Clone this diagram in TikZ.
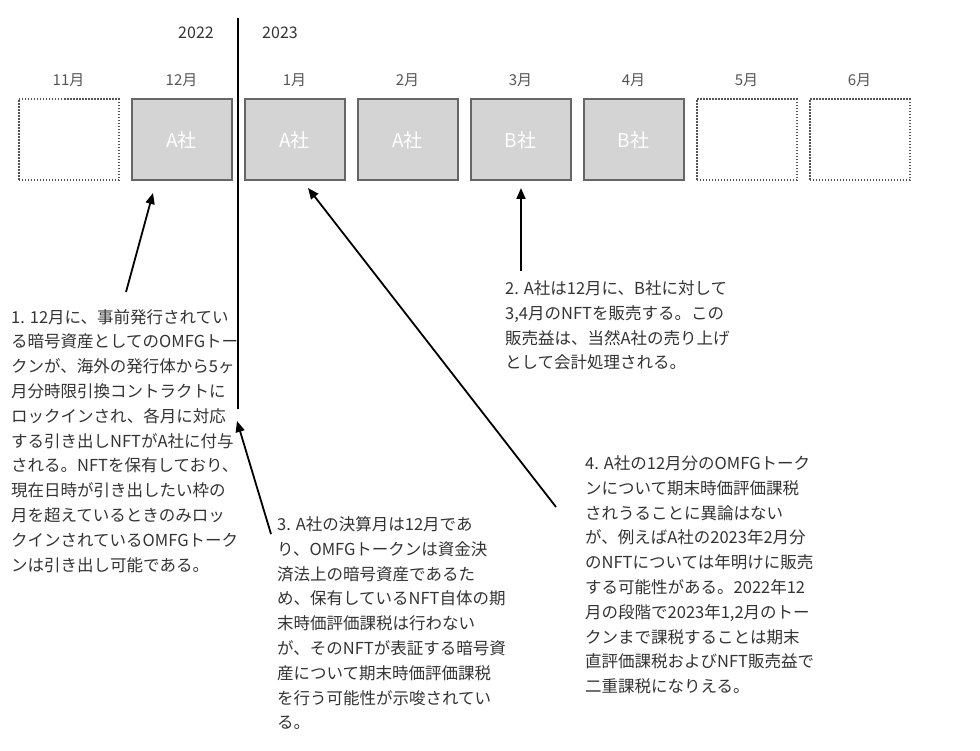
\documentclass[tikz,border=0pt]{standalone}
\usepackage{fontspec}
\setmainfont{Noto Sans CJK JP}
\usetikzlibrary{arrows.meta}
\definecolor{boxfill}{HTML}{D4D4D4}
\definecolor{boxline}{HTML}{666666}
\definecolor{dotline}{HTML}{555555}
\definecolor{txt}{HTML}{333333}
\definecolor{lbl}{HTML}{555555}
\tikzset{
  monthbox/.style={draw=boxline, fill=boxfill, line width=2pt, minimum width=100pt, minimum height=81pt, inner sep=0pt, text=white, font=\fontsize{19}{19}\selectfont},
  emptybox/.style={draw=dotline, dash pattern=on 1.5pt off 1.5pt, line width=2pt, minimum width=100pt, minimum height=81pt, inner sep=0pt},
  monthlbl/.style={text=lbl, font=\fontsize{15}{15}\selectfont, inner sep=0pt},
  yearlbl/.style={text=txt, font=\fontsize{16}{16}\selectfont, inner sep=0pt},
  note/.style={text=txt, align=left, anchor=base west, inner sep=0pt, font=\fontsize{16.5}{24.8}\selectfont},
  pointer/.style={draw=black, line width=1.8pt, -{Triangle[length=11pt,width=9pt]}},
  divider/.style={draw=black, line width=2pt}
}
\begin{document}
\begin{tikzpicture}[x=1pt,y=-1pt]
\useasboundingbox (0,0) rectangle (980,751);

% years
\node[yearlbl] (y22) at (196,33) {2022};
\node[yearlbl] (y23) at (280,33) {2023};

% month labels
\node[monthlbl] (l11) at (68.5,80) {11月};
\node[monthlbl] (l12) at (181.5,80) {12月};
\node[monthlbl] (l1) at (294.5,80) {1月};
\node[monthlbl] (l2) at (407.5,80) {2月};
\node[monthlbl] (l3) at (520.5,80) {3月};
\node[monthlbl] (l4) at (633.5,80) {4月};
\node[monthlbl] (l5) at (746.5,80) {5月};
\node[monthlbl] (l6) at (859.5,80) {6月};

% boxes
\node[emptybox] (b11) at (68.5,140) {};
\node[monthbox] (b12) at (181.5,140) {A社};
\node[monthbox] (b1) at (294.5,140) {A社};
\node[monthbox] (b2) at (407.5,140) {A社};
\node[monthbox] (b3) at (520.5,140) {B社};
\node[monthbox] (b4) at (633.5,140) {B社};
\node[emptybox] (b5) at (746.5,140) {};
\node[emptybox] (b6) at (859.5,140) {};

% divider
\coordinate (dtop) at (238,18);
\coordinate (dbot) at (238,409);
\draw[divider] (dtop) -- (dbot);

% notes (anchor = baseline of last line)
\node[note] (n1) at (11,571) {1. 12月に、事前発行されてい\\る暗号資産としてのOMFGトー\\クンが、海外の発行体から5ヶ\\月分時限引換コントラクトに\\ロックインされ、各月に対応\\する引き出しNFTがA社に付与\\される。NFTを保有しており、\\現在日時が引き出したい枠の\\月を超えているときのみロッ\\クインされているOMFGトーク\\ンは引き出し可能である。};
\node[note] (n2) at (505,368.9) {2. A社は12月に、B社に対して\\3,4月のNFTを販売する。この\\販売益は、当然A社の売り上げ\\として会計処理される。};
\node[note] (n3) at (277,728.9) {3. A社の決算月は12月であ\\り、OMFGトークンは資金決\\済法上の暗号資産であるた\\め、保有しているNFT自体の期\\末時価評価課税は行わない\\が、そのNFTが表証する暗号資\\産について期末時価評価課税\\を行う可能性が示唆されてい\\る。};
\node[note] (n4) at (585,692.7) {4. A社の12月分のOMFGトーク\\ンについて期末時価評価課税\\されうることに異論はない\\が、例えばA社の2023年2月分\\のNFTについては年明けに販売\\する可能性がある。2022年12\\月の段階で2023年1,2月のトー\\クンまで課税することは期末\\直評価課税およびNFT販売益で\\二重課税になりえる。};

% arrows
\coordinate (a1s) at (126,292);
\coordinate (a1e) at (153,193);
\coordinate (a2s) at (521,271);
\coordinate (a2e) at (521,188);
\coordinate (a3s) at (271,534);
\coordinate (a3e) at (237,421);
\coordinate (a4s) at (556,507);
\coordinate (a4e) at (308,188);
\draw[pointer] (a1s) -- (a1e);
\draw[pointer] (a2s) -- (a2e);
\draw[pointer] (a3s) -- (a3e);
\draw[pointer] (a4s) -- (a4e);
\end{tikzpicture}
\end{document}
